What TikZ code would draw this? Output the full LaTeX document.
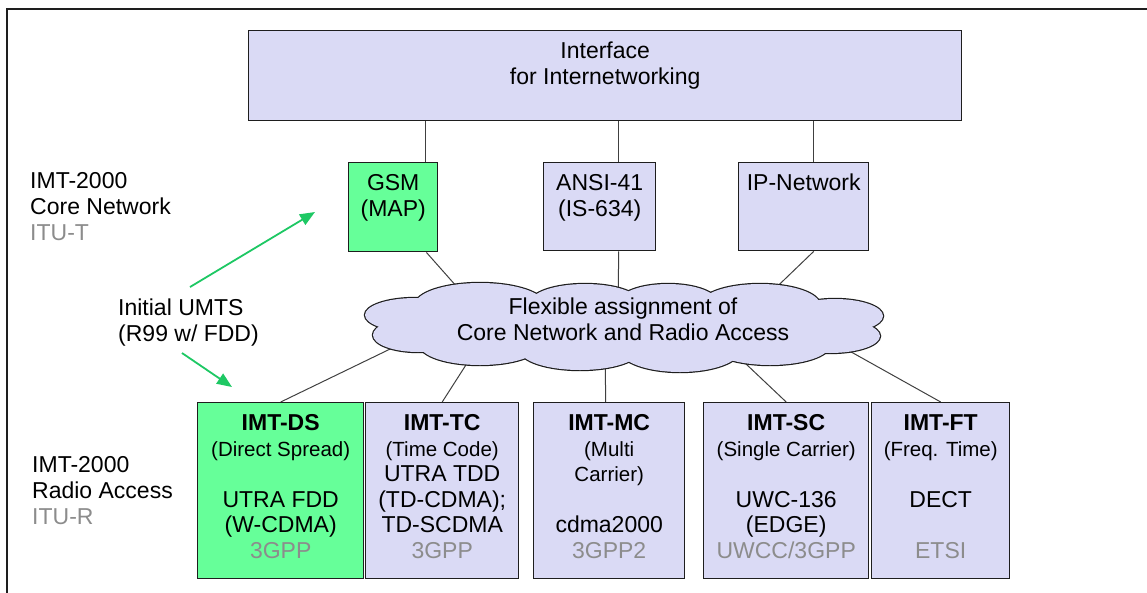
\documentclass[tikz,border=0pt]{standalone}
\usepackage{fontspec}
\setmainfont{Liberation Sans}
\usetikzlibrary{arrows.meta}
\definecolor{lav}{RGB}{218,218,245}
\definecolor{grn}{RGB}{102,255,153}
\definecolor{txtgray}{RGB}{140,140,140}
\definecolor{arrowgreen}{RGB}{30,200,100}
\definecolor{edgecol}{RGB}{30,30,30}
\pgfdeclarelayer{bg}
\pgfsetlayers{bg,main}
\newcommand{\bigf}{\fontsize{23}{25.5}\selectfont}
\newcommand{\smf}{\fontsize{20.5}{25.5}\selectfont}
\newcommand{\gr}[1]{\textcolor{txtgray}{#1}}
\newcommand{\boxtxt}[3]{\begin{minipage}[t][#2][t]{#1}\centering\bigf\rule{0pt}{28pt}#3\end{minipage}}
\newcommand{\puffs}{480/305/65/22, 585/303/55/19, 668/303/50/19, 760/305/60/21, 835/316/48/17, 830/336/50/17, 770/345/60/20, 680/350/60/22, 580/350/60/20, 480/345/60/20, 415/315/50/17, 418/335/45/17}
\tikzset{
  box/.style={draw=edgecol, line width=1.4pt, fill=lav, inner sep=0pt, anchor=north west},
  gbox/.style={box, fill=grn},
  conn/.style={draw=edgecol!85, line width=1pt},
  garrow/.style={draw=arrowgreen, line width=1.8pt, -{Triangle[length=15pt,width=12pt]}},
  lbl/.style={align=left, inner sep=0pt, anchor=north west, font=\fontsize{23}{26}\selectfont},
  puffline/.style={draw=edgecol, line width=2.4pt, fill=lav},
}
\begin{document}
\begin{tikzpicture}[x=1pt,y=-1pt]
\useasboundingbox (0,0) rectangle (1147,592);
% frame
\draw[line width=1.8pt, edgecol] (7,600) -- (7,9) -- (1160,9);

% top
\node[box] (iface) at (248,30) {\boxtxt{713pt}{90pt}{Interface\\for Internetworking}};
\node[gbox] (gsm) at (348,162) {\boxtxt{89pt}{89pt}{GSM\\(MAP)}};
\node[box] (ansi) at (543,162) {\boxtxt{112pt}{88pt}{ANSI-41\\(IS-634)}};
\node[box] (ip) at (738,162) {\boxtxt{130pt}{88pt}{IP-Network}};

% bottom
\node[gbox] (ds) at (197,402) {\boxtxt{166pt}{176pt}{\textbf{IMT-DS}\\{\smf (Direct Spread)}\\[25.5pt]UTRA FDD\\(W-CDMA)\\\gr{3GPP}}};
\node[box] (tc) at (365,402) {\boxtxt{153pt}{176pt}{\textbf{IMT-TC}\\{\smf (Time Code)}\\UTRA TDD\\(TD-CDMA);\\TD-SCDMA\\\gr{3GPP}}};
\node[box] (mc) at (533,402) {\boxtxt{151pt}{176pt}{\textbf{IMT-MC}\\{\smf (Multi}\\{\smf Carrier)}\\[25.5pt]cdma2000\\\gr{3GPP2}}};
\node[box] (sc) at (703,402) {\boxtxt{165pt}{176pt}{\textbf{IMT-SC}\\{\smf (Single Carrier)}\\[25.5pt]UWC-136\\(EDGE)\\\gr{UWCC/3GPP}}};
\node[box] (ft) at (871,402) {\boxtxt{138pt}{176pt}{\textbf{IMT-FT}\\{\smf (Freq. Time)}\\[25.5pt]DECT\\[25.5pt]\gr{ETSI}}};

% cloud outline: union of puffs (draw pass, then fill pass)
\foreach \cx/\cy/\rx/\ry in \puffs {
  \path[puffline] (\cx,\cy) ellipse [x radius=\rx pt, y radius=\ry pt];
}
\foreach \cx/\cy/\rx/\ry in \puffs {
  \fill[lav] (\cx,\cy) ellipse [x radius=\rx pt, y radius=\ry pt];
}
\fill[lav] (624,326) ellipse [x radius=220pt, y radius=32pt];
\node[align=center, inner sep=0pt, font=\fontsize{23}{26}\selectfont] (cloud) at (623,319) {Flexible assignment of\\Core Network and Radio Access};

% labels
\node[lbl] (corelbl) at (30,168) {\rule{0pt}{20pt}IMT-2000\\Core Network\\\gr{ITU-T}};
\node[lbl] (radiolbl) at (32,452) {\rule{0pt}{20pt}IMT-2000\\Radio Access\\\gr{ITU-R}};
\node[lbl] (umts) at (118,295) {\rule{0pt}{20pt}Initial UMTS\\(R99 w/ FDD)};

% coordinates
\coordinate (gsmtop) at ([xshift=-13pt]gsm.north east);
\coordinate (gsmbot) at ([xshift=-12pt]gsm.south east);
\coordinate (ansitop) at ([xshift=19pt]ansi.north);
\coordinate (ansibot) at ([xshift=19pt]ansi.south);
\coordinate (iptop) at ([xshift=10pt]ip.north);
\coordinate (ipbot) at ([xshift=10pt]ip.south);
\coordinate (cgsm) at (473,305);
\coordinate (cansi) at (618,310);
\coordinate (cip) at (759,304);
\coordinate (cds) at (417,336);
\coordinate (ctc) at (480,343);
\coordinate (cmc) at (605,345);
\coordinate (csc) at (727,346);
\coordinate (cft) at (819,334);
\coordinate (mctop) at ([xshift=-3.5pt]mc.north);

\begin{pgfonlayer}{bg}
\draw[conn] (gsmtop) -- (gsmtop |- iface.south);
\draw[conn] (ansitop) -- (ansitop |- iface.south);
\draw[conn] (iptop) -- (iptop |- iface.south);
\draw[conn] (gsmbot) -- (cgsm);
\draw[conn] (ansibot) -- (cansi);
\draw[conn] (ipbot) -- (cip);
\draw[conn] (ds.north) -- (cds);
\draw[conn] (tc.north) -- (ctc);
\draw[conn] (mctop) -- (cmc);
\draw[conn] (sc.north) -- (csc);
\draw[conn] (ft.north) -- (cft);
\end{pgfonlayer}

% green arrows
\coordinate (a1s) at (190,287);
\coordinate (a1e) at (315,212);
\coordinate (a2s) at (182,353);
\coordinate (a2e) at (232,387);
\draw[garrow] (a1s) -- (a1e);
\draw[garrow] (a2s) -- (a2e);
\end{tikzpicture}
\end{document}
